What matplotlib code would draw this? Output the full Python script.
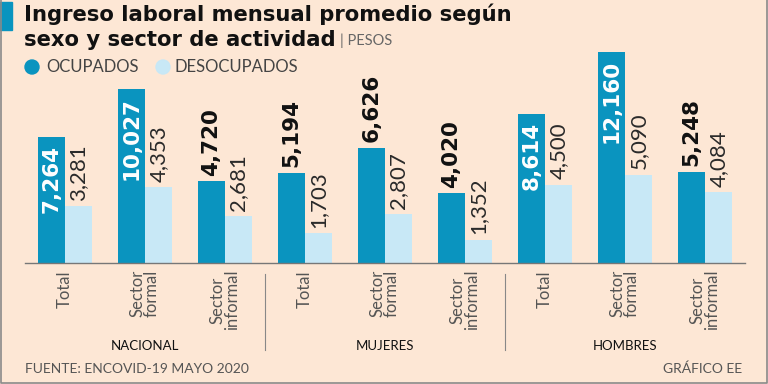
import matplotlib.pyplot as plt
from matplotlib.patches import Rectangle, Ellipse
from matplotlib.lines import Line2D

# data
categorias = ["Total", "Sector\nformal", "Sector\ninformal"] * 3
grupos = ["NACIONAL", "MUJERES", "HOMBRES"]
ocupados = [7264, 10027, 4720, 5194, 6626, 4020, 8614, 12160, 5248]
desocupados = [3281, 4353, 2681, 1703, 2807, 1352, 4500, 5090, 4084]

BG = "#fde7d5"
DARK = "#0a94bf"
LIGHT = "#c8e8f6"
W, H = 768, 384

plt.rcParams['font.family'] = ['Lato', 'DejaVu Sans']

fig = plt.figure(figsize=(7.68, 3.84), dpi=100, facecolor=BG)

def fx(px):
    return px / W

def fy(py):
    return 1 - py / H

# axes: baseline at y=263, top at 40, x from 25 to 745
ax = fig.add_axes([fx(25), fy(263), fx(720), 223 / H])
ax.set_facecolor(BG)
ax.set_xlim(-0.5, 8.5)
ax.set_ylim(0, 12850)
for s in ["top", "right", "left"]:
    ax.spines[s].set_visible(False)
ax.spines["bottom"].set_color("#777777")
ax.spines["bottom"].set_linewidth(1)
ax.set_xticks([])
ax.set_yticks([])

bw = 0.3375
xs = list(range(len(ocupados)))
ax.bar([x - bw / 2 for x in xs], ocupados, width=bw, color=DARK)
ax.bar([x + bw / 2 for x in xs], desocupados, width=bw, color=LIGHT)

for x, v in zip(xs, ocupados):
    txt = f"{v:,}"
    if v > 7000:
        ax.annotate(txt, (x - bw / 2, v), xytext=(0, -6), textcoords="offset points",
                    rotation=90, ha="center", va="top", color="white",
                    fontsize=15.5, fontweight="bold", family="DejaVu Sans")
    else:
        ax.annotate(txt, (x - bw / 2, v), xytext=(0, 4), textcoords="offset points",
                    rotation=90, ha="center", va="bottom", color="#111111",
                    fontsize=15.5, fontweight="bold", family="DejaVu Sans")
for x, v in zip(xs, desocupados):
    ax.annotate(f"{v:,}", (x + bw / 2, v), xytext=(0, 4), textcoords="offset points",
                rotation=90, ha="center", va="bottom", color="#2a2a2a",
                fontsize=16, fontweight="normal")

# category labels
for i, c in enumerate(categorias):
    fig.text(fx(65 + 80 * i), fy(270), c, rotation=90, ha="center", va="top",
             fontsize=12, color="#555555", linespacing=0.85)

for i, g in enumerate(grupos):
    fig.text(fx(145 + 240 * i), fy(346), g, ha="center", va="center",
             fontsize=9.5, color="#111111")

for sx in [265, 505]:
    fig.add_artist(Line2D([fx(sx), fx(sx)], [fy(274), fy(350)], color="#888888", lw=0.8))

# title
fig.add_artist(Rectangle((0, fy(30)), fx(12), 28 / H, color=DARK, transform=fig.transFigure))
fig.text(fx(24), fy(14), "Ingreso laboral mensual promedio según", fontsize=15.2,
         fontweight="bold", va="center", ha="left", color="#111111", family="DejaVu Sans")
fig.text(fx(24), fy(40), "sexo y sector de actividad", fontsize=15.2,
         fontweight="bold", va="center", ha="left", color="#111111", family="DejaVu Sans")
fig.text(fx(340), fy(41), "| PESOS", fontsize=10.5, va="center", ha="left", color="#666666")

# legend
fig.add_artist(Ellipse((fx(32), fy(67)), 14 / W, 14 / H, color=DARK, transform=fig.transFigure))
fig.text(fx(46), fy(67), "OCUPADOS", fontsize=12, va="center", color="#444444")
fig.add_artist(Ellipse((fx(163), fy(67)), 14 / W, 14 / H, color=LIGHT, transform=fig.transFigure))
fig.text(fx(175), fy(67), "DESOCUPADOS", fontsize=12, va="center", color="#444444")

# footer
fig.text(fx(25), fy(369), "FUENTE: ENCOVID-19 MAYO 2020", fontsize=10, va="center",
         color="#555555")
fig.text(fx(742), fy(369), "GRÁFICO EE", fontsize=10, va="center", ha="right",
         color="#555555")

# frame (left, bottom, right)
fig.add_artist(Line2D([fx(1), fx(1), fx(767), fx(767)], [1, fy(383), fy(383), 1],
                      color="#8a8a8a", lw=1.2))

fig.savefig("out.png", dpi=100, facecolor=BG)
